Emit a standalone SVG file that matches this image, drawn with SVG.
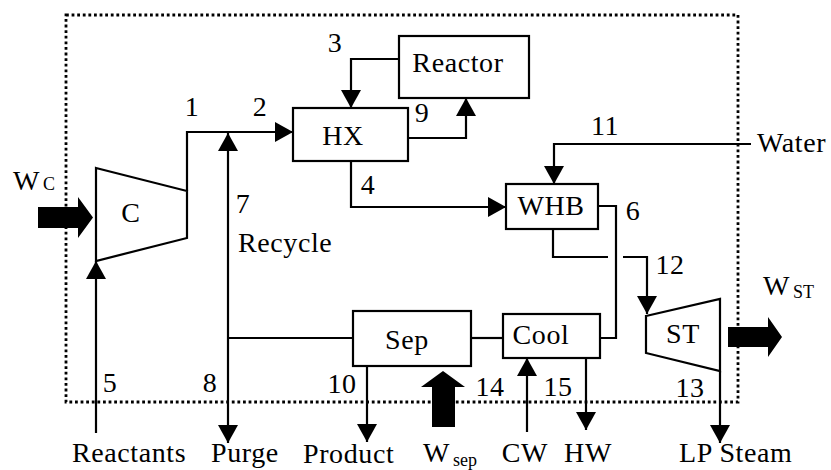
<svg xmlns="http://www.w3.org/2000/svg" width="831" height="470" viewBox="0 0 831 470">
<style>
  .ln { fill: none; stroke: #000; stroke-width: 2.2; }
  .box { fill: #fff; stroke: #000; stroke-width: 2.2; }
  .blk { fill: #000; stroke: none; }
  text { font-family: 'Liberation Serif', 'Times New Roman', Times, serif; font-size: 28px; letter-spacing: 0.6px; fill: #000; }
  .m { text-anchor: middle; }
  .sub { font-size: 18px; letter-spacing: 0; }
  .border { fill: none; stroke: #000; stroke-width: 2.8; stroke-dasharray: 2.8 2.8; }
</style>
<defs>
  <marker id="ah" viewBox="0 0 18 20" refX="18" refY="10" markerWidth="18" markerHeight="20" markerUnits="userSpaceOnUse" orient="auto">
    <path d="M0,0 L18,10 L0,20 Z" fill="#000"/>
  </marker>
</defs>
<rect width="831" height="470" fill="#fff"/>

<rect id="boundary" class="border" x="66" y="15" width="672" height="387"/>

<g id="connectors">
  <path class="ln" d="M187,191 L187,132 L293,132" marker-end="url(#ah)"/>
  <path class="ln" d="M228,338 L228,133" marker-end="url(#ah)"/>
  <path class="ln" d="M228,338 L228,443" marker-end="url(#ah)"/>
  <path class="ln" d="M353,338 L228,338"/>
  <path class="ln" d="M399,59 L351,59 L351,108" marker-end="url(#ah)"/>
  <path class="ln" d="M408,138 L466,138 L466,98" marker-end="url(#ah)"/>
  <path class="ln" d="M351,161 L351,207 L506,207" marker-end="url(#ah)"/>
  <path class="ln" d="M751,144 L554,144 L554,184" marker-end="url(#ah)"/>
  <path class="ln" d="M598,206 L616,206 L616,338 L600,338"/>
  <path class="ln" d="M553,229 L553,257 L608,257"/>
  <path class="ln" d="M623,257 L647,257 L647,314" marker-end="url(#ah)"/>
  <path class="ln" d="M471,338 L503,338"/>
  <path class="ln" d="M367,366 L367,442" marker-end="url(#ah)"/>
  <path class="ln" d="M527,432 L527,358" marker-end="url(#ah)"/>
  <path class="ln" d="M586,358 L586,430" marker-end="url(#ah)"/>
  <path class="ln" d="M96,433 L96,261" marker-end="url(#ah)"/>
  <path class="ln" d="M720,371 L720,443" marker-end="url(#ah)"/>
  <path class="blk" d="M38,207 L78,207 L78,197 L93,217.5 L78,238 L78,228 L38,228 Z"/>
  <path class="blk" d="M728,327 L768,327 L768,317 L782,337 L768,357 L768,347 L728,347 Z"/>
  <path class="blk" d="M432,427 L432,387 L421,387 L443,371 L465,387 L455,387 L455,427 Z"/>
</g>

<g id="compressor">
  <path class="box" d="M96,168 L187,191 L187,238 L96,261 Z"/>
  <text class="m" x="131" y="222">C</text>
</g>
<g id="hx">
  <rect class="box" x="293" y="108" width="115" height="53"/>
  <text class="m" x="343" y="145">HX</text>
</g>
<g id="reactor">
  <rect class="box" x="399" y="36" width="130" height="62"/>
  <text class="m" x="458" y="72">Reactor</text>
</g>
<g id="whb">
  <rect class="box" x="506" y="184" width="92" height="45"/>
  <text class="m" x="551" y="215">WHB</text>
</g>
<g id="sep">
  <rect class="box" x="353" y="311" width="118" height="55"/>
  <text class="m" x="407" y="349">Sep</text>
</g>
<g id="cool">
  <rect class="box" x="503" y="314" width="97" height="44"/>
  <text class="m" x="541" y="344">Cool</text>
</g>
<g id="st">
  <path class="box" d="M646,316 L720,299 L720,371 L646,353 Z"/>
  <text class="m" x="683" y="343">ST</text>
</g>

<g id="labels">
  <text class="m" x="192" y="116">1</text>
  <text class="m" x="260" y="116">2</text>
  <text class="m" x="335" y="52">3</text>
  <text class="m" x="422" y="122">9</text>
  <text class="m" x="368" y="194">4</text>
  <text class="m" x="605" y="135">11</text>
  <text x="757" y="152">Water</text>
  <text class="m" x="633" y="220">6</text>
  <text class="m" x="243" y="213">7</text>
  <text x="238" y="252">Recycle</text>
  <text class="m" x="670" y="274">12</text>
  <text class="m" x="690" y="397">13</text>
  <text class="m" x="490" y="396">14</text>
  <text class="m" x="558" y="396">15</text>
  <text class="m" x="110" y="392">5</text>
  <text class="m" x="210" y="392">8</text>
  <text class="m" x="342" y="393">10</text>
  <text x="72" y="462">Reactants</text>
  <text x="211" y="462">Purge</text>
  <text x="303" y="463">Product</text>
  <text x="423" y="462">W<tspan class="sub" dx="3" dy="4">sep</tspan></text>
  <text class="m" x="525" y="462">CW</text>
  <text class="m" x="588" y="462">HW</text>
  <text x="679" y="462">LP Steam</text>
  <text x="13" y="190">W<tspan class="sub" dx="3">C</tspan></text>
  <text x="763" y="295">W<tspan class="sub" dx="3" dy="3">ST</tspan></text>
</g>
</svg>
